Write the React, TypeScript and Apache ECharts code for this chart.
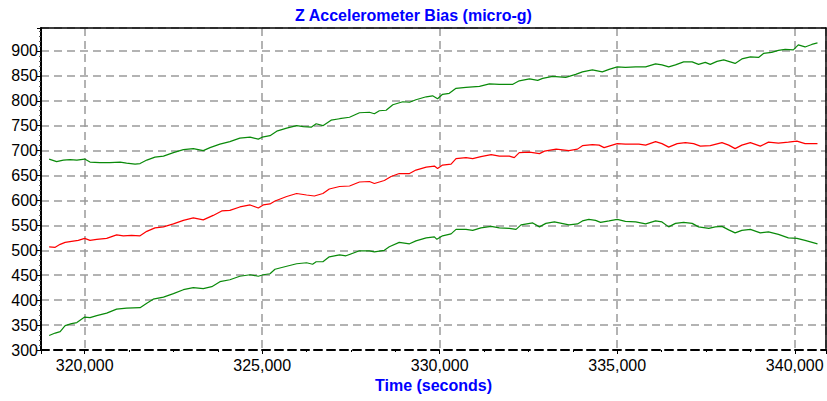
import React, { useEffect, useRef } from "react";
import * as echarts from "echarts";

const title = "Z Accelerometer Bias (micro-g)";
const xName = "Time (seconds)";

const upperGreen: [number, number][] = [
  [319000, 683], [319210, 678], [319400, 681], [319590, 682], [319780, 681], [320000, 683],
  [320150, 677], [320430, 676], [320710, 676], [321000, 677], [321180, 675], [321420, 673],
  [321560, 674], [321750, 681], [321980, 687], [322220, 689], [322500, 696], [322780, 702],
  [323060, 704], [323340, 700], [323530, 706], [323810, 713], [324090, 718], [324370, 725],
  [324660, 727], [324890, 723], [325000, 727], [325220, 730], [325410, 739], [325690, 745],
  [325970, 750], [326160, 748], [326380, 747], [326520, 754], [326710, 750], [326940, 761],
  [327180, 764], [327460, 767], [327740, 776], [328020, 777], [328160, 774], [328300, 780],
  [328490, 781], [328680, 792], [328960, 798], [329150, 797], [329330, 802], [329620, 808],
  [329800, 810], [329940, 804], [330080, 813], [330270, 815], [330460, 825], [330740, 827],
  [331120, 829], [331400, 834], [331680, 833], [332060, 833], [332240, 840], [332530, 844],
  [332760, 841], [332900, 845], [333180, 849], [333550, 847], [333830, 853], [334020, 858],
  [334300, 862], [334580, 858], [334770, 863], [335000, 868], [335230, 867], [335520, 868],
  [335800, 868], [336080, 874], [336260, 872], [336450, 868], [336640, 872], [336870, 878],
  [337110, 878], [337290, 873], [337480, 877], [337620, 873], [337810, 879], [338000, 882],
  [338230, 877], [338320, 875], [338510, 884], [338750, 888], [338980, 887], [339120, 895],
  [339350, 897], [339540, 901], [339730, 903], [339960, 902], [340100, 912], [340290, 908],
  [340480, 913], [340640, 916],
];

const middleRed: [number, number][] = [
  [319000, 507], [319170, 506], [319310, 512], [319450, 516], [319630, 518], [319820, 520],
  [320000, 524], [320150, 520], [320340, 522], [320620, 524], [320900, 531], [321090, 529],
  [321320, 530], [321560, 529], [321750, 538], [321980, 545], [322220, 547], [322500, 553],
  [322780, 560], [323060, 565], [323340, 561], [323620, 570], [323860, 579], [324090, 580],
  [324370, 587], [324660, 591], [324890, 585], [325030, 591], [325220, 593], [325360, 599],
  [325690, 608], [325970, 614], [326250, 611], [326470, 609], [326710, 614], [326890, 623],
  [327180, 628], [327460, 629], [327740, 637], [328020, 638], [328160, 634], [328440, 640],
  [328630, 648], [328860, 654], [329150, 654], [329330, 661], [329620, 667], [329850, 669],
  [329940, 664], [330080, 671], [330320, 673], [330460, 684], [330740, 686], [330930, 684],
  [331160, 688], [331450, 692], [331680, 689], [331960, 689], [332100, 686], [332240, 696],
  [332530, 697], [332810, 694], [332950, 699], [333280, 703], [333640, 700], [333880, 703],
  [334020, 710], [334300, 712], [334490, 711], [334630, 706], [334860, 711], [335000, 714],
  [335230, 713], [335610, 713], [335800, 711], [336080, 718], [336260, 714], [336450, 707],
  [336690, 714], [336920, 716], [337150, 714], [337340, 709], [337620, 710], [337950, 716],
  [338140, 711], [338320, 704], [338510, 711], [338750, 716], [339030, 709], [339260, 717],
  [339540, 715], [339820, 717], [340060, 719], [340290, 714], [340640, 714],
];

const lowerGreen: [number, number][] = [
  [319000, 329], [319170, 334], [319310, 337], [319450, 349], [319630, 353], [319780, 355],
  [320000, 366], [320150, 365], [320340, 369], [320620, 374], [320900, 382], [321180, 384],
  [321560, 385], [321750, 394], [321930, 402], [322220, 406], [322500, 413], [322780, 421],
  [323060, 425], [323340, 423], [323580, 427], [323810, 437], [324090, 441], [324370, 448],
  [324660, 451], [324890, 448], [325030, 451], [325220, 453], [325360, 462], [325690, 468],
  [325970, 473], [326250, 475], [326420, 472], [326520, 477], [326710, 477], [326890, 487],
  [327180, 491], [327360, 489], [327740, 499], [328020, 499], [328160, 497], [328440, 500],
  [328580, 507], [328860, 516], [329150, 513], [329330, 519], [329620, 525], [329850, 527],
  [329920, 522], [330080, 529], [330320, 533], [330460, 542], [330740, 542], [330930, 540],
  [331160, 545], [331450, 548], [331680, 545], [331960, 544], [332150, 542], [332290, 551],
  [332620, 555], [332810, 547], [332990, 554], [333230, 557], [333640, 551], [333880, 553],
  [334020, 559], [334200, 562], [334390, 560], [334530, 556], [334770, 559], [335000, 562],
  [335230, 558], [335520, 557], [335800, 553], [336080, 559], [336260, 557], [336450, 547],
  [336640, 554], [336870, 556], [337110, 554], [337290, 547], [337580, 544], [337760, 547],
  [337950, 548], [338140, 541], [338320, 535], [338510, 540], [338750, 542], [339030, 535],
  [339260, 537], [339540, 532], [339820, 525], [340060, 524], [340290, 520], [340640, 513],
];

const X_MIN = 318770;
const X_MAX = 340880;
const Y_MIN = 300;
const Y_MAX = 946;
const Y_INTERVAL = 50;

const FONT = "'Liberation Sans', Arial, sans-serif";

export default function App() {
  const ref = useRef<HTMLDivElement>(null);

  useEffect(() => {
    if (!ref.current) return;
    const chart = echarts.init(ref.current, undefined, { renderer: "svg" });
    const gridLine = { show: true, lineStyle: { color: "#9a9a9a", width: 1.5, type: [8, 5] as any } };
    chart.setOption({
      animation: false,
      backgroundColor: "#ffffff",
      textStyle: { fontFamily: FONT },
      title: {
        text: title,
        left: "center",
        top: 7,
        padding: 0,
        textStyle: { color: "#0000ff", fontSize: 16, fontWeight: "bold", fontFamily: FONT },
      },
      grid: { left: 41, right: 1, top: 28, bottom: 51, containLabel: false },
      xAxis: [
        {
          type: "value",
          min: X_MIN,
          max: X_MAX,
          splitNumber: 5,
          name: xName,
          nameLocation: "middle",
          nameGap: 26,
          nameTextStyle: { color: "#0000ff", fontSize: 16, fontWeight: "bold", fontFamily: FONT },
          axisLine: { show: true, onZero: false, lineStyle: { color: "#000", width: 2, type: [8, 5] as any } },
          axisTick: { show: true, length: 4, lineStyle: { color: "#000" } },
          minorTick: { show: true, splitNumber: 4, length: 2, lineStyle: { color: "#000" } },
          axisLabel: {
            color: "#000",
            fontSize: 16,
            fontFamily: FONT,
            margin: 7,
            showMinLabel: false,
            showMaxLabel: false,
            formatter: (v: number) => v.toLocaleString("en-US"),
          },
          splitLine: gridLine,
        },
        {
          type: "value",
          position: "top",
          min: X_MIN,
          max: X_MAX,
          axisLine: { show: true, onZero: false, lineStyle: { color: "#000", width: 1.5 } },
          axisTick: { show: false },
          axisLabel: { show: false },
          splitLine: { show: false },
        },
      ],
      yAxis: [
        {
          type: "value",
          min: Y_MIN,
          max: Y_MAX,
          interval: Y_INTERVAL,
          axisLine: { show: true, onZero: false, lineStyle: { color: "#000", width: 2 } },
          axisTick: { show: true, length: 4, lineStyle: { color: "#000" } },
          minorTick: { show: true, splitNumber: 5, length: 2, lineStyle: { color: "#555" } },
          axisLabel: { color: "#000", fontSize: 16, fontFamily: FONT, margin: 3, showMaxLabel: false },
          splitLine: gridLine,
        },
        {
          type: "value",
          position: "right",
          min: Y_MIN,
          max: Y_MAX,
          interval: Y_INTERVAL,
          axisLine: { show: true, onZero: false, lineStyle: { color: "#000", width: 1.5 } },
          axisTick: { show: false },
          axisLabel: { show: false },
          splitLine: { show: false },
        },
      ],
      series: [
        {
          type: "line",
          data: upperGreen,
          showSymbol: false,
          symbol: "none",
          lineStyle: { color: "#0a8a0a", width: 1.2 },
        },
        {
          type: "line",
          data: middleRed,
          showSymbol: false,
          symbol: "none",
          lineStyle: { color: "#ff0000", width: 1.2 },
        },
        {
          type: "line",
          data: lowerGreen,
          showSymbol: false,
          symbol: "none",
          lineStyle: { color: "#0a8a0a", width: 1.2 },
        },
      ],
    });
    return () => chart.dispose();
  }, []);

  return (
    <div
      ref={ref}
      style={{ position: "absolute", left: 0, top: 0, width: 827, height: 401, background: "#fff" }}
    />
  );
}
